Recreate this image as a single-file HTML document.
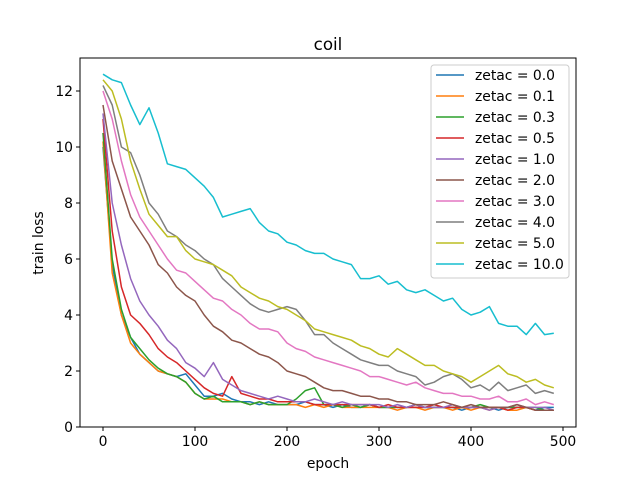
<!DOCTYPE html>
<html><head><meta charset="utf-8"><style>
body{margin:0;background:#fff}
svg text{font-family:"DejaVu Sans","Liberation Sans",sans-serif;fill:#000}
</style></head><body>
<svg id="chart" width="640" height="480" xmlns="http://www.w3.org/2000/svg">
<rect width="640" height="480" fill="#fff"/>
<text x="328" y="50" font-size="16.7" text-anchor="middle">coil</text>
<g id="plot"></g>
<g id="axes"></g>
<text x="328" y="468" font-size="13.9" text-anchor="middle">epoch</text>
<text x="0" y="0" font-size="13.9" text-anchor="middle" transform="translate(43,243) rotate(-90)">train loss</text>
<g id="legend"></g>
</svg>
<script>
const epochs = [0,10,20,30,40,50,60,70,80,90,100,110,120,130,140,150,160,170,180,190,200,210,220,230,240,250,260,270,280,290,300,310,320,330,340,350,360,370,380,390,400,410,420,430,440,450,460,470,480,490];
const labels = ["zetac = 0.0","zetac = 0.1","zetac = 0.3","zetac = 0.5","zetac = 1.0","zetac = 2.0","zetac = 3.0","zetac = 4.0","zetac = 5.0","zetac = 10.0"];
const colors = ["#1f77b4","#ff7f0e","#2ca02c","#d62728","#9467bd","#8c564b","#e377c2","#7f7f7f","#bcbd22","#17becf"];
const s00 = [10.0,5.8,4.0,3.2,2.6,2.3,2.0,1.9,1.8,1.9,1.5,1.1,1.1,1.2,1.0,0.9,0.9,0.8,0.9,0.8,0.8,0.8,0.9,0.8,0.8,0.7,0.8,0.7,0.7,0.8,0.7,0.7,0.7,0.7,0.7,0.7,0.7,0.7,0.7,0.6,0.7,0.7,0.7,0.6,0.7,0.7,0.7,0.6,0.7,0.7];
const s01 = [10.2,5.5,4.0,3.0,2.6,2.3,2.0,1.9,1.8,1.6,1.2,1.0,1.0,1.0,0.9,0.9,0.8,0.9,0.8,0.8,0.8,0.8,0.7,0.8,0.7,0.8,0.7,0.7,0.7,0.7,0.7,0.7,0.6,0.7,0.7,0.6,0.7,0.7,0.6,0.7,0.6,0.7,0.6,0.7,0.6,0.6,0.7,0.6,0.6,0.6];
const s03 = [10.5,6.0,4.2,3.2,2.8,2.4,2.1,1.9,1.8,1.6,1.2,1.0,1.1,0.9,0.9,0.9,0.8,0.9,0.8,0.8,0.8,1.0,1.3,1.4,0.8,0.8,0.7,0.8,0.7,0.8,0.7,0.7,0.7,0.7,0.8,0.7,0.7,0.7,0.7,0.7,0.7,0.8,0.7,0.7,0.7,0.7,0.7,0.7,0.6,0.6];
const s05 = [11.0,7.0,5.0,4.0,3.7,3.3,2.8,2.5,2.3,2.0,1.7,1.4,1.2,1.1,1.8,1.2,1.1,1.0,1.0,0.9,0.9,0.9,0.9,0.8,0.8,0.8,0.8,0.8,0.8,0.8,0.7,0.8,0.7,0.7,0.7,0.7,0.8,0.7,0.7,0.7,0.7,0.7,0.7,0.7,0.6,0.7,0.7,0.6,0.6,0.6];
const s10 = [11.2,8.0,6.5,5.3,4.5,4.0,3.6,3.1,2.8,2.3,2.1,1.8,2.3,1.7,1.5,1.3,1.2,1.1,1.0,1.1,1.0,0.9,0.9,1.0,0.9,0.8,0.9,0.8,0.8,0.8,0.8,0.7,0.8,0.7,0.8,0.7,0.7,0.7,0.8,0.7,0.7,0.7,0.6,0.7,0.7,0.8,0.7,0.7,0.7,0.6];
const s20 = [11.5,9.5,8.5,7.5,7.0,6.5,5.8,5.5,5.0,4.7,4.5,4.0,3.6,3.4,3.1,3.0,2.8,2.6,2.5,2.3,2.0,1.9,1.8,1.6,1.4,1.3,1.3,1.2,1.1,1.1,1.0,1.0,0.9,0.9,0.8,0.8,0.8,0.9,0.8,0.7,0.8,0.7,0.7,0.7,0.7,0.8,0.7,0.6,0.6,0.6];
const s30 = [12.0,11.0,9.5,8.3,7.5,7.0,6.5,6.0,5.6,5.5,5.2,4.9,4.6,4.5,4.2,4.0,3.7,3.5,3.5,3.4,3.0,2.8,2.7,2.5,2.4,2.3,2.2,2.1,2.0,1.8,1.8,1.7,1.6,1.5,1.6,1.4,1.3,1.2,1.2,1.1,1.1,1.0,1.0,1.1,0.9,0.9,1.0,0.8,0.9,0.8];
const s40 = [12.2,11.5,10.0,9.8,9.0,8.0,7.6,7.0,6.8,6.5,6.3,6.0,5.8,5.3,5.0,4.7,4.4,4.2,4.1,4.2,4.3,4.2,3.8,3.3,3.3,3.0,2.8,2.6,2.4,2.3,2.2,2.2,2.0,1.9,1.8,1.5,1.6,1.8,1.9,1.7,1.4,1.5,1.3,1.6,1.3,1.4,1.5,1.2,1.3,1.2];
const s50 = [12.4,12.0,11.0,9.5,8.5,7.6,7.2,6.8,6.8,6.3,6.0,5.9,5.8,5.6,5.4,5.0,4.8,4.6,4.5,4.3,4.2,4.0,3.8,3.5,3.4,3.3,3.2,3.1,2.9,2.8,2.6,2.5,2.8,2.6,2.4,2.2,2.2,2.0,1.9,1.8,1.6,1.8,2.0,2.2,1.9,1.8,1.6,1.7,1.5,1.4];
const s100 = [12.6,12.4,12.3,11.5,10.8,11.4,10.5,9.4,9.3,9.2,8.9,8.6,8.2,7.5,7.6,7.7,7.8,7.3,7.0,6.9,6.6,6.5,6.3,6.2,6.2,6.0,5.9,5.8,5.3,5.3,5.4,5.1,5.2,4.9,4.8,4.9,4.7,4.5,4.6,4.2,4.0,4.1,4.3,3.7,3.6,3.6,3.3,3.7,3.3,3.35];
const series = [s00,s01,s03,s05,s10,s20,s30,s40,s50,s100];
const xTicks = [0,100,200,300,400,500];
const yTicks = [0,2,4,6,8,10,12];

const L=80,R=576,T=58,B=427;
const xs = e => 103 + e*0.92;
const ys = v => 427 - v*28;
const NS="http://www.w3.org/2000/svg";
function mk(tag, attrs, parent){const el=document.createElementNS(NS,tag);for(const k in attrs)el.setAttribute(k,attrs[k]);parent.appendChild(el);return el;}
const plot=document.getElementById('plot'), axes=document.getElementById('axes'), legend=document.getElementById('legend');
series.forEach((s,i)=>{
  const d=s.map((v,j)=>(j?'L':'M')+xs(epochs[j]).toFixed(1)+','+ys(v).toFixed(1)).join('');
  const p=mk('path',{d:d,fill:'none',stroke:colors[i],'stroke-width':1.5,'stroke-linejoin':'round'},plot);
  
  
});
const frame=mk('rect',{x:L,y:T,width:R-L,height:B-T,fill:'none',stroke:'#000','stroke-width':1},axes);


xTicks.forEach(t=>{
  const x=xs(t);
  const tk=mk('line',{x1:x,x2:x,y1:B,y2:B+4,stroke:'#000'},axes);
  
  
  const tx=mk('text',{x:x,y:B+19,'font-size':13.9,'text-anchor':'middle'},axes);tx.textContent=t;
  
  
});
yTicks.forEach(t=>{
  const y=ys(t);
  const tk=mk('line',{x1:L-4,x2:L,y1:y,y2:y,stroke:'#000'},axes);
  
  
  const tx=mk('text',{x:L-7,y:y+5,'font-size':13.9,'text-anchor':'end'},axes);tx.textContent=t;
  
  
});
const lb=mk('rect',{x:431,y:65,width:138,height:213,rx:3,fill:'#fff','fill-opacity':0.8,stroke:'#ccc'},legend);


labels.forEach((l,i)=>{
  const y=75+i*21;
  const g=mk('g',{},legend);
  
  
  mk('line',{x1:436,x2:464,y1:y,y2:y,stroke:colors[i],'stroke-width':1.5},g);
  const tx=mk('text',{x:475,y:y+5,'font-size':13.9},g);tx.textContent=l;
});
</script>
</body></html>
